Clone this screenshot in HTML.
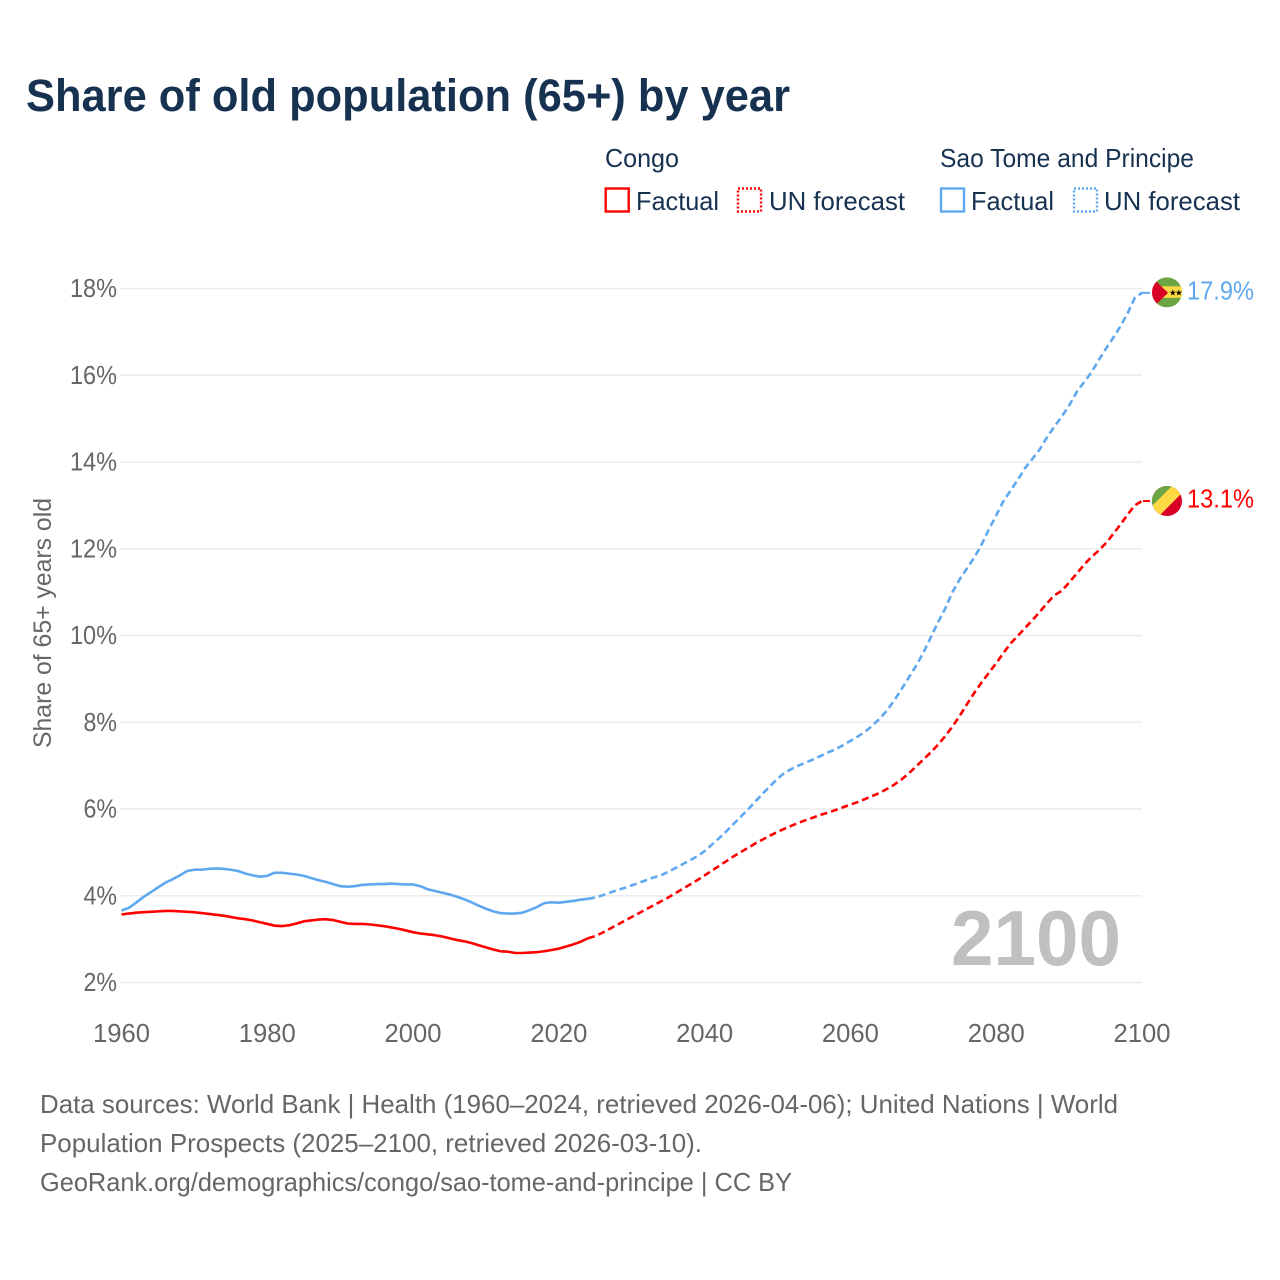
<!DOCTYPE html>
<html lang="en">
<head>
<meta charset="utf-8">
<title>Share of old population (65+) by year</title>
<style>
html,body{margin:0;padding:0;background:#fff;}
svg{display:block;font-family:"Liberation Sans",sans-serif;}
</style>
</head>
<body>
<svg id="chart" xmlns="http://www.w3.org/2000/svg" width="1280" height="1280" viewBox="0 0 1280 1280">
  <rect x="0" y="0" width="1280" height="1280" fill="#ffffff"/>
  <text x="26" y="111" font-size="45" font-weight="700" fill="#173251" textLength="764" lengthAdjust="spacingAndGlyphs">Share of old population (65+) by year</text>

  <g font-size="26" fill="#173251">
    <text x="605" y="167" textLength="74" lengthAdjust="spacingAndGlyphs">Congo</text>
    <rect x="605.700" y="188.500" width="23" height="23" fill="none" stroke="#ff0000" stroke-width="2.400"/>
    <text x="636" y="210" textLength="83" lengthAdjust="spacingAndGlyphs">Factual</text>
    <rect x="738" y="188.500" width="23" height="23" fill="none" stroke="#ff0000" stroke-width="2.400" stroke-dasharray="2 2"/>
    <text x="769" y="210" textLength="136" lengthAdjust="spacingAndGlyphs">UN forecast</text>
    <text x="940" y="167" textLength="254" lengthAdjust="spacingAndGlyphs">Sao Tome and Principe</text>
    <rect x="941" y="188.500" width="23" height="23" fill="none" stroke="#5fa8f0" stroke-width="2.400"/>
    <text x="971" y="210" textLength="83" lengthAdjust="spacingAndGlyphs">Factual</text>
    <rect x="1074" y="188.500" width="23" height="23" fill="none" stroke="#5fa8f0" stroke-width="2.400" stroke-dasharray="2 2"/>
    <text x="1104" y="210" textLength="136" lengthAdjust="spacingAndGlyphs">UN forecast</text>
  </g>

  <text transform="translate(51,748) rotate(-90)" font-size="25" fill="#666666" textLength="250" lengthAdjust="spacingAndGlyphs">Share of 65+ years old</text>

  <g id="grid"></g>
  <g id="yticks"></g>
  <g id="xticks"></g>

  <text id="year-label" x="951" y="965" font-size="78" font-weight="700" fill="#c0c0c0" textLength="170" lengthAdjust="spacingAndGlyphs"></text>

  <g id="series"></g>

  <g id="flag-sao">
    <clipPath id="clip-sao"><circle cx="0" cy="0" r="15"/></clipPath>
    <g clip-path="url(#clip-sao)">
      <rect x="-15" y="-15" width="30" height="30" fill="#6da544"/>
      <rect x="-15" y="-6" width="30" height="11.500" fill="#ffda44"/>
      <polygon points="-15,-15 1,0.500 -15,16" fill="#d80027"/>
      <text x="2" y="3" font-size="8.500" fill="#000000">★</text>
      <text x="8" y="3" font-size="8.500" fill="#000000">★</text>
    </g>
  </g>
  <g id="flag-congo">
    <clipPath id="clip-congo"><circle cx="0" cy="0" r="15"/></clipPath>
    <g clip-path="url(#clip-congo)">
      <rect x="-15" y="-15" width="30" height="30" fill="#d80027"/>
      <polygon points="-15,-15 15,-15 -15,15" fill="#6da544"/>
      <polygon points="5,-15 15,-15 15,-8 -8,15 -15,15 -15,5" fill="#ffda44"/>
    </g>
  </g>
  <text id="value-sao" x="1187" font-size="26" fill="#5fa8f0" textLength="67" lengthAdjust="spacingAndGlyphs"></text>
  <text id="value-congo" x="1187" font-size="26" fill="#ff0000" textLength="67" lengthAdjust="spacingAndGlyphs"></text>

  <g font-size="26" fill="#666666">
    <text x="40" y="1113" textLength="1078" lengthAdjust="spacingAndGlyphs">Data sources: World Bank | Health (1960–2024, retrieved 2026-04-06); United Nations | World</text>
    <text x="40" y="1152" textLength="662" lengthAdjust="spacingAndGlyphs">Population Prospects (2025–2100, retrieved 2026-03-10).</text>
    <text x="40" y="1191" textLength="752" lengthAdjust="spacingAndGlyphs">GeoRank.org/demographics/congo/sao-tome-and-principe | CC BY</text>
  </g>
</svg>
<script>
const factualYears = [1960,1961,1962,1963,1964,1965,1966,1967,1968,1969,1970,1971,1972,1973,1974,1975,1976,1977,1978,1979,1980,1981,1982,1983,1984,1985,1986,1987,1988,1989,1990,1991,1992,1993,1994,1995,1996,1997,1998,1999,2000,2001,2002,2003,2004,2005,2006,2007,2008,2009,2010,2011,2012,2013,2014,2015,2016,2017,2018,2019,2020,2021,2022,2023,2024];
const forecastYears = [2024,2025,2026,2027,2028,2029,2030,2031,2032,2033,2034,2035,2036,2037,2038,2039,2040,2041,2042,2043,2044,2045,2046,2047,2048,2049,2050,2051,2052,2053,2054,2055,2056,2057,2058,2059,2060,2061,2062,2063,2064,2065,2066,2067,2068,2069,2070,2071,2072,2073,2074,2075,2076,2077,2078,2079,2080,2081,2082,2083,2084,2085,2086,2087,2088,2089,2090,2091,2092,2093,2094,2095,2096,2097,2098,2099,2100];
const congoFactual = [3.57,3.59,3.61,3.62,3.63,3.64,3.65,3.65,3.64,3.63,3.62,3.60,3.58,3.56,3.54,3.51,3.48,3.46,3.43,3.39,3.35,3.31,3.30,3.32,3.36,3.41,3.43,3.45,3.46,3.44,3.40,3.36,3.35,3.35,3.34,3.32,3.30,3.27,3.24,3.20,3.16,3.13,3.11,3.09,3.06,3.02,2.98,2.95,2.91,2.86,2.81,2.76,2.72,2.71,2.68,2.68,2.69,2.70,2.72,2.75,2.78,2.83,2.88,2.94,3.02];
const congoForecast = [3.02,3.07,3.15,3.24,3.33,3.42,3.51,3.60,3.69,3.78,3.87,3.96,4.06,4.16,4.26,4.36,4.47,4.58,4.69,4.80,4.91,5.01,5.11,5.21,5.30,5.39,5.47,5.55,5.62,5.69,5.75,5.81,5.87,5.92,5.98,6.04,6.10,6.16,6.23,6.30,6.37,6.46,6.56,6.68,6.82,6.98,7.14,7.30,7.48,7.68,7.90,8.15,8.42,8.68,8.92,9.14,9.36,9.60,9.82,10.00,10.18,10.36,10.55,10.75,10.93,11.03,11.22,11.42,11.62,11.80,11.95,12.12,12.33,12.55,12.78,13.00,13.10];
const saoFactual = [3.66,3.72,3.84,3.97,4.08,4.19,4.30,4.38,4.47,4.57,4.60,4.60,4.62,4.63,4.62,4.60,4.57,4.51,4.47,4.44,4.46,4.53,4.53,4.51,4.49,4.46,4.41,4.36,4.32,4.27,4.22,4.21,4.22,4.25,4.26,4.27,4.27,4.28,4.27,4.26,4.26,4.22,4.15,4.11,4.07,4.03,3.98,3.92,3.85,3.77,3.70,3.64,3.60,3.59,3.59,3.61,3.67,3.74,3.83,3.85,3.84,3.86,3.88,3.91,3.93];
const saoForecast = [3.93,3.96,4.01,4.07,4.13,4.18,4.24,4.30,4.36,4.42,4.47,4.55,4.64,4.73,4.82,4.91,5.03,5.18,5.33,5.49,5.66,5.83,6.00,6.18,6.36,6.53,6.70,6.84,6.93,7.01,7.08,7.15,7.23,7.31,7.38,7.47,7.57,7.67,7.78,7.92,8.08,8.27,8.50,8.76,9.03,9.30,9.60,9.95,10.30,10.62,11.00,11.30,11.55,11.80,12.10,12.45,12.77,13.10,13.35,13.60,13.87,14.08,14.30,14.58,14.82,15.05,15.30,15.60,15.83,16.05,16.33,16.60,16.85,17.12,17.42,17.78,17.90];
const yTickValues = [2,4,6,8,10,12,14,16,18];
const yTickLabels = ["2%","4%","6%","8%","10%","12%","14%","16%","18%"];
const xTickValues = [1960,1980,2000,2020,2040,2060,2080,2100];
const xTickLabels = ["1960","1980","2000","2020","2040","2060","2080","2100"];

const SVG_NS = "http://www.w3.org/2000/svg";
const COLOR_CONGO = "#ff0000";
const COLOR_SAO = "#5fa8f0";
const xScale = year => 121.5 + (year - 1960) * (1142 - 121.5) / 140;
const yScale = value => 982.5 - (value - 2) * (982.5 - 288.5) / 16;

function svgEl(tag, parent) {
  const el = document.createElementNS(SVG_NS, tag);
  parent.appendChild(el);
  return el;
}

const gridGroup = document.getElementById("grid");
const yTickGroup = document.getElementById("yticks");
yTickValues.forEach((v, i) => {
  const line = svgEl("line", gridGroup);
  
  
  line.setAttribute("x1", 120);
  line.setAttribute("x2", 1142);
  line.setAttribute("y1", yScale(v));
  line.setAttribute("y2", yScale(v));
  line.setAttribute("stroke", "#ececec");
  line.setAttribute("stroke-width", "1.5");

  const label = svgEl("text", yTickGroup);
  
  
  const w = (yTickLabels[i].length - 1) * 13.5 + 20;
  label.setAttribute("x", 117 - w);
  label.setAttribute("y", yScale(v) + 8.5);
  label.setAttribute("font-size", "25.500");
  label.setAttribute("fill", "#666666");
  label.setAttribute("textLength", w);
  label.setAttribute("lengthAdjust", "spacingAndGlyphs");
  label.textContent = yTickLabels[i];
});

const xTickGroup = document.getElementById("xticks");
xTickValues.forEach((v, i) => {
  const label = svgEl("text", xTickGroup);
  
  
  label.setAttribute("x", xScale(v) - 28.5);
  label.setAttribute("y", 1042);
  label.setAttribute("font-size", "25.500");
  label.setAttribute("fill", "#666666");
  label.setAttribute("textLength", 57);
  label.setAttribute("lengthAdjust", "spacingAndGlyphs");
  label.textContent = xTickLabels[i];
});

function linePath(years, values) {
  return values.map((v, i) => (i ? "L" : "M") + xScale(years[i]).toFixed(2) + " " + yScale(v).toFixed(2)).join(" ");
}

const seriesGroup = document.getElementById("series");

const congoFactualLine = svgEl("path", seriesGroup);


congoFactualLine.setAttribute("d", linePath(factualYears, congoFactual));
congoFactualLine.setAttribute("fill", "none");
congoFactualLine.setAttribute("stroke", COLOR_CONGO);
congoFactualLine.setAttribute("stroke-width", "2.6");
congoFactualLine.setAttribute("stroke-linejoin", "round");

const congoForecastLine = svgEl("path", seriesGroup);


congoForecastLine.setAttribute("d", linePath(forecastYears, congoForecast));
congoForecastLine.setAttribute("fill", "none");
congoForecastLine.setAttribute("stroke", COLOR_CONGO);
congoForecastLine.setAttribute("stroke-width", "2.6");
congoForecastLine.setAttribute("stroke-dasharray", "7 4");

const saoFactualLine = svgEl("path", seriesGroup);


saoFactualLine.setAttribute("d", linePath(factualYears, saoFactual));
saoFactualLine.setAttribute("fill", "none");
saoFactualLine.setAttribute("stroke", COLOR_SAO);
saoFactualLine.setAttribute("stroke-width", "2.6");
saoFactualLine.setAttribute("stroke-linejoin", "round");

const saoForecastLine = svgEl("path", seriesGroup);


saoForecastLine.setAttribute("d", linePath(forecastYears, saoForecast));
saoForecastLine.setAttribute("fill", "none");
saoForecastLine.setAttribute("stroke", COLOR_SAO);
saoForecastLine.setAttribute("stroke-width", "2.6");
saoForecastLine.setAttribute("stroke-dasharray", "7 4");

const lastYear = forecastYears[forecastYears.length - 1];
const congoLast = congoForecast[congoForecast.length - 1];
const saoLast = saoForecast[saoForecast.length - 1];

const congoStub = svgEl("line", seriesGroup);


congoStub.setAttribute("x1", xScale(lastYear) + 1);
congoStub.setAttribute("x2", xScale(lastYear) + 8);
congoStub.setAttribute("y1", yScale(congoLast));
congoStub.setAttribute("y2", yScale(congoLast));
congoStub.setAttribute("stroke", COLOR_CONGO);
congoStub.setAttribute("stroke-width", "2");

const saoStub = svgEl("line", seriesGroup);


saoStub.setAttribute("x1", xScale(lastYear) - 2);
saoStub.setAttribute("x2", xScale(lastYear) + 8);
saoStub.setAttribute("y1", yScale(saoLast));
saoStub.setAttribute("y2", yScale(saoLast));
saoStub.setAttribute("stroke", COLOR_SAO);
saoStub.setAttribute("stroke-width", "2");

document.getElementById("flag-sao").setAttribute("transform", "translate(1167," + (yScale(saoLast) - 0.5) + ")");
document.getElementById("flag-congo").setAttribute("transform", "translate(1167," + yScale(congoLast) + ")");
const valueSao = document.getElementById("value-sao");
valueSao.setAttribute("y", yScale(saoLast) + 6.5);
valueSao.textContent = saoLast.toFixed(1) + "%";
const valueCongo = document.getElementById("value-congo");
valueCongo.setAttribute("y", yScale(congoLast) + 6.5);
valueCongo.textContent = congoLast.toFixed(1) + "%";
document.getElementById("year-label").textContent = String(lastYear);
</script>
</body>
</html>
